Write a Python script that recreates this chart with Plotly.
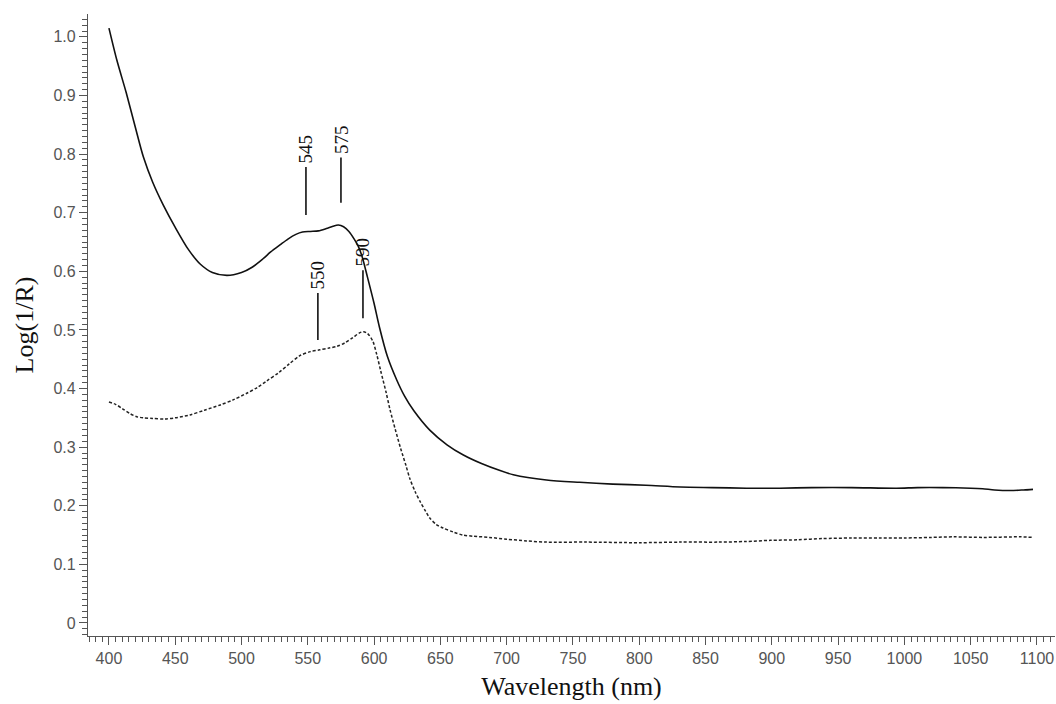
import plotly.graph_objects as go

# Solid curve (wavelength nm, Log(1/R))
solid_wl = [400, 406, 413, 420, 426, 433, 441, 450, 460, 469, 478, 489, 500, 508, 516, 522, 529,
            535, 541, 546, 552, 558, 564, 569, 573, 577, 581, 585, 588, 591, 595, 600, 604, 610, 617, 623,
            630, 642, 655, 667, 681, 695, 705, 730, 755, 780, 805, 831, 855, 881, 906, 930, 960, 994, 1010,
            1029, 1050, 1059, 1068, 1080, 1090, 1097]
solid_val = [1.015, 0.96, 0.905, 0.845, 0.795, 0.752, 0.713, 0.675, 0.637, 0.612, 0.598, 0.593,
             0.598, 0.607, 0.621, 0.633, 0.645, 0.655, 0.663, 0.667, 0.668, 0.669, 0.673, 0.677, 0.679,
             0.676, 0.668, 0.655, 0.643, 0.625, 0.59, 0.545, 0.505, 0.455, 0.415, 0.387, 0.362, 0.329,
             0.304, 0.287, 0.272, 0.26, 0.253, 0.244, 0.24, 0.237, 0.235, 0.232, 0.231, 0.230, 0.230,
             0.231, 0.231, 0.230, 0.231, 0.231, 0.230, 0.229, 0.227, 0.226, 0.227, 0.228]

# Dashed curve
dash_wl = [400, 405, 410, 416, 421, 426, 433, 442, 450, 461, 472, 484, 494, 504, 512, 519, 528, 536, 544,
           552, 559, 566, 572, 578, 584, 589, 592, 595, 599, 602, 605, 609, 612, 616, 620, 624, 627, 631,
           635, 639, 642, 647, 652, 660, 667, 675, 687, 700, 715, 730, 760, 800, 831, 860, 880, 899, 920,
           938, 960, 981, 1000, 1020, 1037, 1060, 1087, 1097]
dash_val = [0.377, 0.373, 0.366, 0.357, 0.352, 0.350, 0.349, 0.348, 0.35, 0.355, 0.363, 0.372, 0.381,
            0.392, 0.402, 0.413, 0.427, 0.442, 0.456, 0.463, 0.466, 0.469, 0.472, 0.478, 0.487, 0.495,
            0.497, 0.494, 0.481, 0.458, 0.43, 0.394, 0.364, 0.33, 0.298, 0.269, 0.246, 0.224, 0.206,
            0.19, 0.179, 0.168, 0.162, 0.155, 0.150, 0.148, 0.146, 0.143, 0.140, 0.138, 0.138, 0.137,
            0.138, 0.138, 0.139, 0.141, 0.142, 0.144, 0.145, 0.145, 0.145, 0.146, 0.147, 0.146, 0.147,
            0.146]

# Peak markers: label, x position, line bottom, line top
peak_labels = ["545", "575", "550", "590"]
peak_x = [548.6, 575.0, 557.6, 591.6]
peak_y0 = [0.696, 0.717, 0.483, 0.520]
peak_y1 = [0.778, 0.794, 0.563, 0.602]

x_ticks = [400, 450, 500, 550, 600, 650, 700, 750, 800, 850, 900, 950, 1000, 1050, 1100]
y_tickvals = [0, 0.1, 0.2, 0.3, 0.4, 0.5, 0.6, 0.7, 0.8, 0.9, 1.0]
y_ticktext = ["0", "0.1", "0.2", "0.3", "0.4", "0.5", "0.6", "0.7", "0.8", "0.9", "1.0"]

fig = go.Figure()
fig.add_trace(go.Scatter(x=solid_wl, y=solid_val, mode="lines",
                         line=dict(color="#111111", width=1.6, shape="spline", smoothing=0.8),
                         showlegend=False))
fig.add_trace(go.Scatter(x=dash_wl, y=dash_val, mode="lines",
                         line=dict(color="#222222", width=1.5, dash="3px,2px", shape="spline", smoothing=0.8),
                         showlegend=False))

for lab, px, y0, y1 in zip(peak_labels, peak_x, peak_y0, peak_y1):
    fig.add_shape(type="line", x0=px, x1=px, y0=y0, y1=y1, xref="x", yref="y",
                  line=dict(color="#111111", width=1.6))
    fig.add_annotation(x=px, y=y1, xref="x", yref="y", text=lab, showarrow=False,
                       textangle=-90, yanchor="bottom", xanchor="center", yshift=2,
                       font=dict(family="Liberation Serif, Times New Roman, serif", size=19, color="#111111"))

axis_col = "#555555"
fig.update_layout(
    width=1056, height=704,
    margin=dict(l=88, r=1, t=14, b=68),
    paper_bgcolor="white", plot_bgcolor="white",
    font=dict(family="Liberation Sans, Arial, sans-serif", size=16, color="#555555"),
    xaxis=dict(range=[384.2, 1113.6], tickvals=x_ticks, ticks="outside", ticklen=8, tickwidth=1,
               tickcolor=axis_col, showline=True, linecolor=axis_col, linewidth=1.2, showgrid=False,
               zeroline=False, mirror=False,
               minor=dict(dtick=5, ticks="outside", ticklen=5, tickcolor=axis_col, tickwidth=1, showgrid=False),
               title=dict(text="Wavelength (nm)", standoff=10,
                          font=dict(family="Liberation Serif, Times New Roman, serif", size=26, color="#111111")),
               tickfont=dict(size=16, color="#555555")),
    yaxis=dict(range=[-0.0222, 1.039], tickvals=y_tickvals, ticktext=y_ticktext, ticks="outside",
               ticklen=8, tickwidth=1, tickcolor=axis_col, showline=True, linecolor=axis_col, linewidth=1.2,
               showgrid=False, zeroline=False, mirror=False,
               minor=dict(dtick=0.01, ticks="outside", ticklen=5, tickcolor=axis_col, tickwidth=1, showgrid=False),
               title=dict(text="Log(1/R)", standoff=12,
                          font=dict(family="Liberation Serif, Times New Roman, serif", size=26, color="#111111")),
               tickfont=dict(size=16, color="#555555")),
)

fig.write_html("out.html")
